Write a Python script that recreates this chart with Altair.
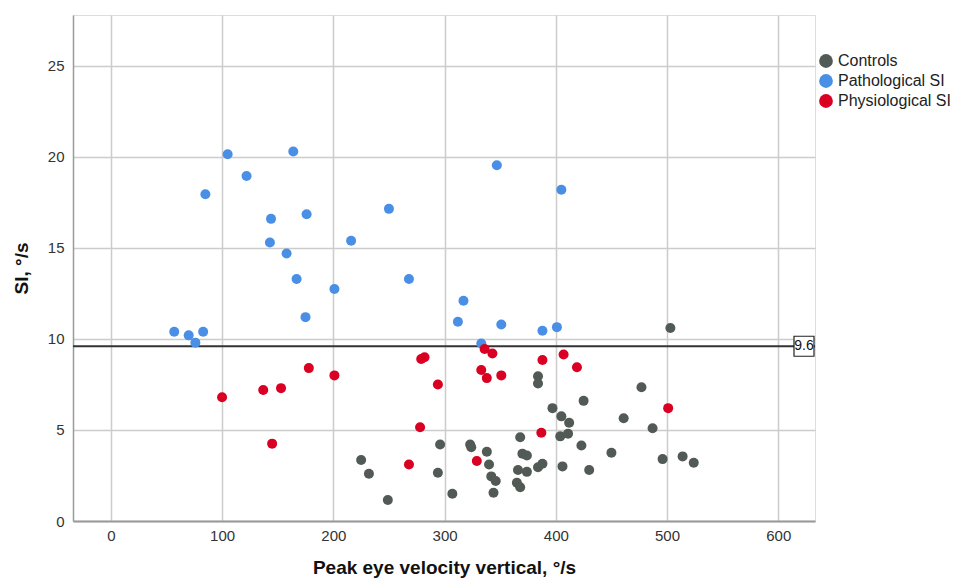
import altair as alt
import pandas as pd

# ---- data ----
controls_x = [225, 232, 249, 296, 294, 307, 323, 324, 338, 340, 342, 346, 344, 368, 370, 374,
              366, 374, 365, 368, 384, 388, 384, 384, 397, 405, 412, 404, 411, 425, 423, 406,
              430, 450, 461, 477, 487, 496, 514, 524, 503]
controls_y = [3.35, 2.6, 1.15, 4.2, 2.65, 1.5, 4.2, 4.05, 3.8, 3.1, 2.45, 2.2, 1.55, 4.6, 3.7, 3.6,
              2.8, 2.7, 2.1, 1.85, 2.95, 3.15, 7.95, 7.55, 6.2, 5.75, 5.4, 4.65, 4.8, 6.6, 4.15, 3.0,
              2.8, 3.75, 5.65, 7.35, 5.1, 3.4, 3.55, 3.2, 10.6]

patho_x = [57, 70, 76, 83, 85, 105, 122, 143, 144, 158, 164, 167, 175, 176, 201, 216, 250, 268,
           312, 317, 333, 347, 351, 388, 401, 405]
patho_y = [10.4, 10.2, 9.8, 10.4, 17.95, 20.15, 18.95, 15.3, 16.6, 14.7, 20.3, 13.3, 11.2, 16.85,
           12.75, 15.4, 17.15, 13.3, 10.95, 12.1, 9.75, 19.55, 10.8, 10.45, 10.65, 18.2]

physio_x = [100, 137, 153, 145, 178, 201, 268, 279, 282, 278, 294, 329, 333, 336, 338, 343, 351,
            388, 387, 407, 419, 501]
physio_y = [6.8, 7.2, 7.3, 4.25, 8.4, 8.0, 3.1, 8.9, 9.0, 5.15, 7.5, 3.3, 8.3, 9.45, 7.85, 9.2, 8.0,
            8.85, 4.85, 9.15, 8.45, 6.2]

groups = ["Controls", "Pathological SI", "Physiological SI"]
group_colors = ["#525a56", "#4a8fe6", "#da0024"]
ref_value = [9.6]
ref_label = ["9.6"]
x_ticks = [0, 100, 200, 300, 400, 500, 600]
y_ticks = [0, 5, 10, 15, 20, 25]

rows = []
for g, xs, ys in zip(groups, [controls_x, patho_x, physio_x], [controls_y, patho_y, physio_y]):
    for a, b in zip(xs, ys):
        rows.append({"vel": a, "si": b, "group": g})
df = pd.DataFrame(rows)
ref_df = pd.DataFrame({"value": ref_value, "label": ref_label})

W, H = 742, 506
FONT = "Liberation Sans"

x_scale = alt.Scale(domain=[-34, 633], nice=False, zero=False)
y_scale = alt.Scale(domain=[0, 27.8], nice=False)

x_axis = alt.Axis(values=x_ticks, title="Peak eye velocity vertical, °/s", ticks=False,
                  labelFontSize=15, labelColor="#333", labelPadding=7, labelFont=FONT,
                  titleFontSize=19, titleFont=FONT, titleFontWeight="bold", titleColor="#111",
                  titlePadding=15, gridColor="#cccccc", gridWidth=1.5,
                  domainColor="#9a9a9a", domainWidth=2)
y_axis = alt.Axis(values=y_ticks, title="SI, °/s", ticks=False,
                  labelFontSize=15, labelColor="#333", labelPadding=9, labelFont=FONT,
                  titleFontSize=19, titleFont=FONT, titleFontWeight="bold", titleColor="#111",
                  titlePadding=16, gridColor="#cccccc", gridWidth=1.5,
                  domainColor="#9a9a9a", domainWidth=1.5)

rule = alt.Chart(ref_df).mark_rule(color="#333333", strokeWidth=1.8).encode(
    y=alt.Y("value:Q", scale=y_scale, axis=y_axis)
)

points = alt.Chart(df).mark_circle(size=100, opacity=1).encode(
    x=alt.X("vel:Q", scale=x_scale, axis=x_axis),
    y=alt.Y("si:Q", scale=y_scale, axis=y_axis),
    color=alt.Color("group:N", scale=alt.Scale(domain=groups, range=group_colors),
                    legend=alt.Legend(title=None, orient="none", legendX=745, legendY=38,
                                      symbolType="circle", symbolSize=190, labelFontSize=16,
                                      labelFont=FONT, labelColor="#222", labelOffset=4,
                                      rowPadding=4, symbolStrokeWidth=0, padding=0)),
)

box = alt.Chart(ref_df).mark_point(shape="square", filled=True, fill="white", stroke="#222",
                                   strokeWidth=1.2, size=400, opacity=1).encode(
    x=alt.value(W - 11),
    y=alt.Y("value:Q", scale=y_scale),
)

label = alt.Chart(ref_df).mark_text(fontSize=14, font=FONT, color="#111", align="center",
                                    baseline="middle").encode(
    x=alt.value(W - 11),
    y=alt.Y("value:Q", scale=y_scale),
    text="label:N",
)

chart = alt.layer(rule, points, box, label).properties(
    width=W, height=H,
    autosize=alt.AutoSizeParams(type="none"),
    padding={"left": 73, "top": 15, "right": 158, "bottom": 59},
).configure_view(stroke=None).configure(background="white")

chart.save("out.html", embed_options={"renderer": "svg", "actions": False})
